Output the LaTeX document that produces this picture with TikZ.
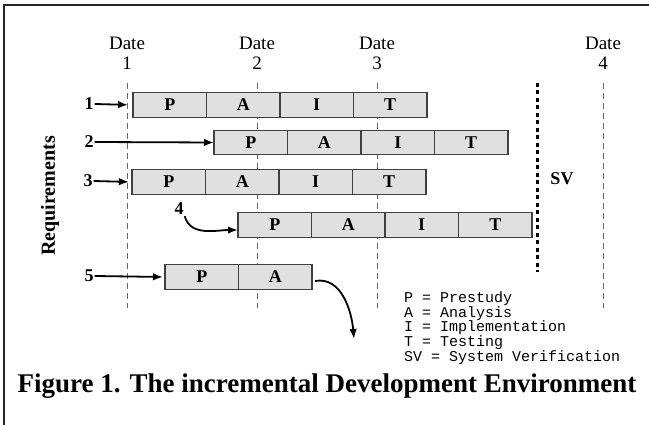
\documentclass[tikz,border=0pt]{standalone}
\usepackage{fontspec}
\setmainfont{Liberation Serif}
\setmonofont{Liberation Mono}
\usetikzlibrary{positioning,arrows.meta}

\tikzset{
    cell/.style={draw=black!75, fill=black!12, line width=1.1pt, outer sep=0pt, inner sep=0pt,
        minimum width=73.5pt, minimum height=24.5pt, font=\bfseries\fontsize{18}{18}\selectfont},
    reqlabel/.style={inner sep=1pt, font=\bfseries\fontsize{18}{18}\selectfont},
    datelabel/.style={align=center, inner sep=0pt, font=\fontsize{19}{20}\selectfont},
    dateline/.style={black!60, line width=0.8pt, dash pattern=on 6pt off 4pt},
    svline/.style={line width=3pt, dash pattern=on 4pt off 3.5pt},
    reqarrow/.style={-{Latex[length=10pt,width=7.5pt]}, line width=1.8pt},
}

\begin{document}
\begin{tikzpicture}[x=1pt,y=-1pt]
\useasboundingbox (0,0) rectangle (649,425);
% Frame
    \draw[line width=2pt, black!85] (4,425) -- (4,5) -- (649,5);
% Dates
    \foreach \d/\x in {1/127,2/257,3/377,4/603}{
        \node[datelabel] (d\d) at (\x,53) {Date\\\d};
        \draw[dateline] (\x,83) -- (\x,308);
    }
% System verification
    \draw[svline] (537,83) -- (537,272);
    \node[reqlabel] (sv) at (562,179) {SV};
% Increments
    \foreach \r/\x/\y/\cells in {1/133/105/{P,A,I,T},2/214/142.5/{P,A,I,T},3/132/182/{P,A,I,T},
                                 4/238/225/{P,A,I,T},5/165/277/{P,A}}{
        \foreach \c [count=\i] in \cells{
            \node[cell, anchor=west] (r\r-\i) at ({\x+(\i-1)*73.5},\y) {\c};
        }
    }
% Requirements
    \node[reqlabel, rotate=90, font=\bfseries\fontsize{20}{20}\selectfont] (req) at (50,196) {Requirements};
    \node[reqlabel] (n1) at (89,104) {1};
    \node[reqlabel] (n2) at (89,142) {2};
    \node[reqlabel] (n3) at (88,181) {3};
    \node[reqlabel] (n4) at (179,209) {4};
    \node[reqlabel] (n5) at (89,276) {5};
    \draw[reqarrow, shorten >=5pt] (n1.east) -- (r1-1.west);
    \draw[reqarrow] (n2.east) -- (r2-1.west);
    \draw[reqarrow, shorten >=3pt] (n3.east) -- (r3-1.west);
    \draw[reqarrow] (n4.south east) to[out=-75, in=180] ([yshift=-5pt]r4-1.west);
    \draw[reqarrow, shorten >=2pt] (n5.east) -- (r5-1.west);
    \coordinate (out5) at (354,339);
    \draw[reqarrow] ([xshift=3pt,yshift=-4pt]r5-2.east) to[out=10, in=95] (out5);
% Legend
    \node[anchor=base west, align=left, inner sep=0pt, font=\ttfamily\fontsize{15}{15}\selectfont]
        (legend) at (404,362) {P = Prestudy\\A = Analysis\\I = Implementation\\T = Testing\\SV = System Verification};
% Caption
    \node[anchor=base, inner sep=0pt, font=\bfseries\fontsize{27}{27}\selectfont] (caption) at (327,392)
        {Figure 1. The incremental Development Environment};
\end{tikzpicture}
\end{document}
